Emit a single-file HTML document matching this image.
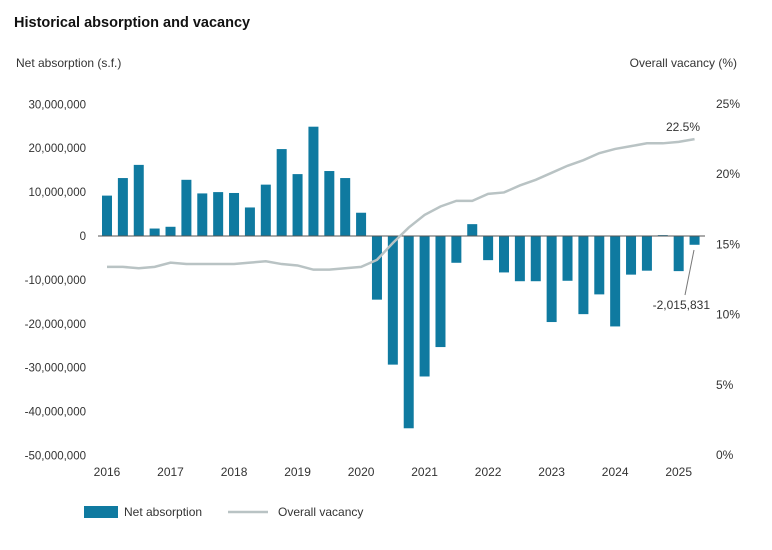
<!DOCTYPE html>
<html><head><meta charset="utf-8"><style>
body{margin:0;background:#fff;font-family:"Liberation Sans",sans-serif;}
svg text{font-family:"Liberation Sans",sans-serif;fill:#333;}
</style></head><body>
<svg width="772" height="545">
<text x="14" y="27" font-size="14.5" font-weight="bold" fill="#111" style="fill:#111">Historical absorption and vacancy</text>
<text x="16" y="67" font-size="12">Net absorption (s.f.)</text>
<text x="737" y="67" font-size="12" text-anchor="end">Overall vacancy (%)</text>
<g id="lt"></g><g id="rt"></g><g id="xt"></g><g id="bars"></g>
<line id="zero" x1="98" x2="705" stroke="#555" stroke-width="1"/>
<path id="vline" fill="none" stroke="#b9c3c4" stroke-width="2.5"/>
<text x="700" y="131" font-size="12" text-anchor="end" fill="#555">22.5%</text>
<line x1="694" y1="250" x2="685" y2="295" stroke="#777"/>
<text x="710" y="309" font-size="12" text-anchor="end" fill="#555">-2,015,831</text>
<rect x="84" y="506" width="34" height="12" fill="#0f7aa0"/>
<text x="124" y="516" font-size="12">Net absorption</text>
<line x1="228" y1="512" x2="268" y2="512" stroke="#b9c3c4" stroke-width="2.5"/>
<text x="278" y="516" font-size="12">Overall vacancy</text>
</svg>
<script>
const years=["2016","2017","2018","2019","2020","2021","2022","2023","2024","2025"];
const absorption=[9.2,13.2,16.2,1.7,2.1,12.8,9.7,10,9.8,6.5,11.7,19.8,14.1,24.9,14.8,13.2,5.3,-14.5,-29.3,-43.8,-32,-25.3,-6.1,2.7,-5.5,-8.3,-10.3,-10.3,-19.6,-10.2,-17.8,-13.3,-20.6,-8.8,-7.9,0.2,-8,-2.0];
const vacancy=[13.4,13.4,13.3,13.4,13.7,13.6,13.6,13.6,13.6,13.7,13.8,13.6,13.5,13.2,13.2,13.3,13.4,13.9,15.1,16.2,17.1,17.7,18.1,18.1,18.6,18.7,19.2,19.6,20.1,20.6,21.0,21.5,21.8,22.0,22.2,22.2,22.3,22.5];
const leftTicks=[30,20,10,0,-10,-20,-30,-40,-50];
const rightTicks=[25,20,15,10,5,0];
const NS="http://www.w3.org/2000/svg";
const yL=v=>236-v*4.39;
const yR=v=>455-v*14.04;
const xQ=i=>107+i*15.88;
function mk(t,p,a){const e=document.createElementNS(NS,t);for(const k in a)e.setAttribute(k,a[k]);p.appendChild(e);return e;}
const lt=document.getElementById('lt');
leftTicks.forEach(v=>{const t=mk('text',lt,{x:86,y:yL(v)+4,'font-size':11.5,'text-anchor':'end'});


t.textContent=(v*1e6).toLocaleString('en-US');});
const rt=document.getElementById('rt');
rightTicks.forEach(v=>{const t=mk('text',rt,{x:716,y:yR(v)+4,'font-size':12});


t.textContent=v+'%';});
const xt=document.getElementById('xt');
years.forEach((y,i)=>{const t=mk('text',xt,{x:xQ(i*4),y:476,'font-size':12,'text-anchor':'middle'});


t.textContent=y;});
const bars=document.getElementById('bars');
absorption.forEach((v,i)=>{const y0=yL(0),y1=yL(v);
const r=mk('rect',bars,{x:xQ(i)-5,y:Math.min(y0,y1),width:10,height:Math.max(Math.abs(y1-y0),1),fill:'#0f7aa0'});

});
document.getElementById('zero').setAttribute('y1',yL(0));
document.getElementById('zero').setAttribute('y2',yL(0));
document.getElementById('vline').setAttribute('d',vacancy.map((v,i)=>(i?'L':'M')+xQ(i)+','+yR(v)).join(''));
</script>
</body></html>
